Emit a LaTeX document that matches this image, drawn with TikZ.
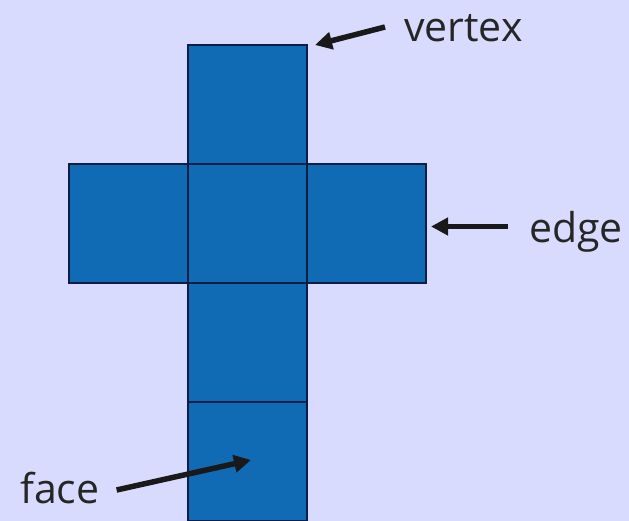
\documentclass[tikz,border=0pt]{standalone}
\usepackage{fontspec}
\setmainfont{Open Sans}
\usetikzlibrary{arrows.meta,positioning}
\definecolor{lavender}{RGB}{217,219,254}
\definecolor{netblue}{RGB}{16,106,180}
\definecolor{netline}{RGB}{12,30,70}

\begin{document}
\begin{tikzpicture}[
  x=1pt, y=-1pt,
  font=\fontsize{41}{48}\selectfont,
  face/.style={draw=netline, line width=1.6pt, fill=netblue, minimum size=119pt, inner sep=0pt, outer sep=0pt},
  label/.style={inner sep=0pt, anchor=base west, text=black!85},
  pointer/.style={-{Triangle[length=17pt,width=17pt]}, line width=5.5pt, black!90}
]
\fill[lavender] (0,0) rectangle (629,521);
\useasboundingbox (0,0) rectangle (629,521);

\node[face] (mid) at (247.5,223.5) {};
\node[face, above=0pt of mid] (top) {};
\node[face, left=0pt of mid] (left) {};
\node[face, right=0pt of mid] (right) {};
\node[face, below=0pt of mid] (low) {};
\node[face, below=0pt of low] (base) {};

\node[label] (vtx) at (404,42) {vertex};
\node[label] (edg) at (529,243) {edge};
\node[label] (fce) at (20,503) {face};

\coordinate (vtxtip) at ([xshift=8pt]top.north east);
\coordinate (edgtip) at ([xshift=5pt,yshift=-3pt]right.east);
\coordinate (fcetip) at (251,460);

\draw[pointer] ([xshift=-19pt,yshift=15pt]vtx.base west) -- (vtxtip);
\draw[pointer] ([xshift=-21pt,yshift=16.5pt]edg.base west) -- (edgtip);
\draw[pointer] ([xshift=17pt,yshift=13pt]fce.base east) -- (fcetip);
\end{tikzpicture}
\end{document}
